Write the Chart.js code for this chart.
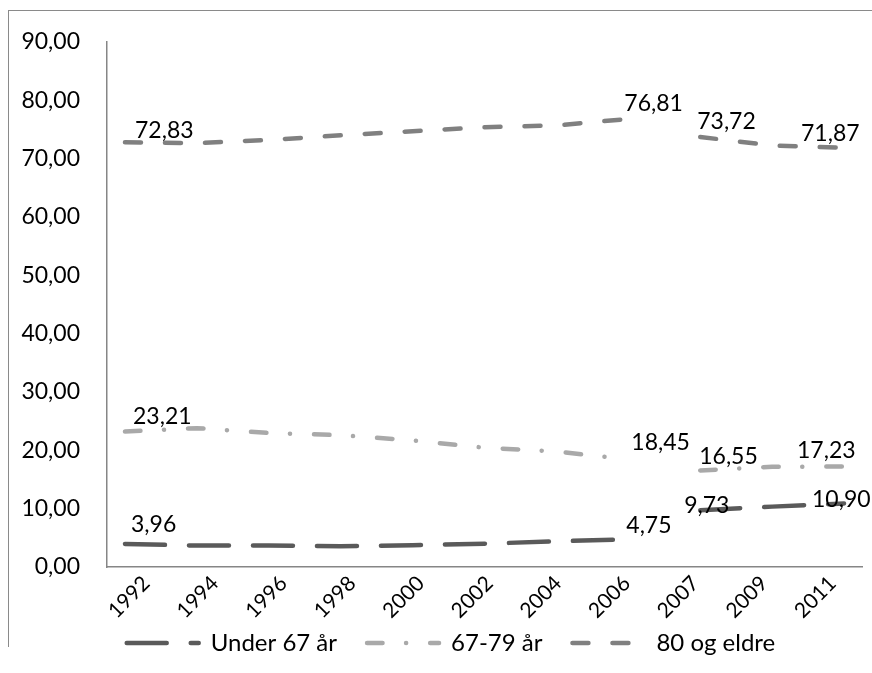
<!DOCTYPE html>
<html>
<head>
<meta charset="utf-8">
<script src="https://cdn.jsdelivr.net/npm/chart.js@4/dist/chart.umd.min.js"></script>
<style>
  html, body { margin: 0; padding: 0; background: #fff; overflow: hidden; }
  #wrap { position: relative; width: 872px; height: 673px; }
  #frame { position: absolute; left: 8px; top: 10px; width: 900px; height: 636px;
           border-left: 1.5px solid #8a8a8a; border-top: 1.5px solid #8a8a8a; }
  canvas { position: absolute; left: 0; top: 0; }
</style>
</head>
<body>
<div id="wrap">
  <div id="frame"></div>
  <canvas id="chart" width="872" height="673"></canvas>
</div>
<script>
// Survey years (categories)
const years = ['1992', '1994', '1996', '1998', '2000', '2002', '2004', '2006', '2007', '2009', '2011'];

// Share (%) by age group
const under67 = [3.96, 3.67, 3.67, 3.55, 3.72, 4.00, 4.40, 4.75, 9.73, 10.35, 10.90];
const age67to79 = [23.21, 23.80, 22.97, 22.60, 21.70, 20.45, 19.80, 18.45, 16.55, 17.18, 17.23];
const age80plus = [72.83, 72.66, 73.21, 74.00, 74.70, 75.40, 75.70, 76.81, 73.72, 72.25, 71.87];

const seriesNames = ['Under 67 år', '67-79 år', '80 og eldre'];

// Value axis
const yMin = 0, yMax = 90, yStep = 10;

// The series is broken between 2006 and 2007 (index 7 -> 8)
const breakAfter = [7];
// Points that carry a value label
const labelledIndex = [0, 7, 8, 10];

const FONT = 'Lato';
const LINE_WIDTH = 4.5;
const fmt = v => v.toFixed(2).replace('.', ',');

// Label placement relative to its point: [dx to text start, dy to text middle]
const labelNudge = [
  [[6, -20], [-2, -14], [-16, -5], [-32, -4]],
  [[8, -16], [3, -17], [-1, -14], [-47, -16]],
  [[10, -12], [-4, -16], [-3, -15.5], [-43, -15]]
];

// Legend sits over the lower part of the rotated year labels
const legendShift = { x: 20, y: -42 };
const legendBoxHeight = 80;

const valueLabels = {
  id: 'valueLabels',
  afterDatasetsDraw(chart) {
    const ctx = chart.ctx;
    ctx.save();
    ctx.font = `23px ${FONT}`;
    ctx.fillStyle = '#000';
    ctx.textAlign = 'left';
    ctx.textBaseline = 'alphabetic';
    chart.data.datasets.forEach((ds, di) => {
      const meta = chart.getDatasetMeta(di);
      labelledIndex.forEach((idx, k) => {
        const pt = meta.data[idx];
        const [dx, dy] = labelNudge[di][k];
        ctx.fillText(fmt(ds.data[idx].y), pt.x + dx, pt.y + dy + 8);
      });
    });
    ctx.restore();
  }
};

const legendPlacement = {
  id: 'legendPlacement',
  afterLayout(chart) {
    const lg = chart.legend;
    if (!lg) return;
    lg.left += legendShift.x; lg.right += legendShift.x;
    lg.top += legendShift.y;
    lg.height = legendBoxHeight;
    lg.bottom = lg.top + legendBoxHeight;
  }
};

const toPoints = arr => arr.map((v, i) => ({ x: i, y: v }));

function series(label, values, color, dash) {
  return {
    label,
    data: toPoints(values),
    borderColor: color,
    backgroundColor: color,
    borderWidth: LINE_WIDTH,
    borderDash: dash,
    borderCapStyle: 'round',
    borderJoinStyle: 'round',
    pointRadius: 0,
    pointHoverRadius: 0,
    tension: 0,
    fill: false,
    xAxisID: 'x',
    yAxisID: 'y',
    segment: {
      borderColor: c => breakAfter.includes(c.p0DataIndex) ? 'rgba(0,0,0,0)' : undefined
    }
  };
}

function build() {
  new Chart(document.getElementById('chart'), {
    type: 'line',
    data: {
      datasets: [
        series(seriesNames[0], under67, '#5a5a5a', [40, 24]),
        series(seriesNames[1], age67to79, '#a9a9a9', [15.5, 23.5, 0.1, 24]),
        series(seriesNames[2], age80plus, '#808080', [16, 24])
      ]
    },
    options: {
      responsive: false,
      animation: false,
      events: [],
      layout: { padding: { top: 42, left: 0, right: 10, bottom: 0 } },
      scales: {
        x: {
          type: 'linear',
          display: false,
          min: -0.25,
          max: years.length - 0.75
        },
        xLabels: {
          type: 'category',
          labels: years,
          position: 'bottom',
          offset: true,
          grid: { display: false, drawTicks: false },
          border: { display: true, color: '#868686', width: 1.5 },
          ticks: {
            autoSkip: false,
            minRotation: 45,
            maxRotation: 45,
            padding: 4,
            labelOffset: 5,
            color: '#000',
            font: { family: FONT, size: 21 }
          },
          afterFit(scale) { scale.height = 76; }
        },
        y: {
          min: yMin,
          max: yMax,
          grid: { display: false, drawTicks: false },
          border: { display: true, color: '#868686', width: 1.5 },
          ticks: {
            stepSize: yStep,
            padding: 27,
            color: '#000',
            font: { family: FONT, size: 23 },
            callback: v => fmt(v)
          },
          afterFit(scale) { scale.width = 107; }
        }
      },
      plugins: {
        tooltip: { enabled: false },
        legend: {
          position: 'bottom',
          maxHeight: 30,
          labels: {
            usePointStyle: true,
            pointStyle: 'line',
            pointStyleWidth: 72,
            padding: 30,
            color: '#000',
            font: { family: FONT, size: 24 },
            generateLabels(chart) {
              const items = Chart.defaults.plugins.legend.labels.generateLabels(chart);
              items.forEach(it => {
                const ds = chart.data.datasets[it.datasetIndex];
                it.lineDash = ds.borderDash;
                it.lineDashOffset = 0;
                it.lineCap = ds.borderCapStyle;
                it.lineWidth = ds.borderWidth;
                it.strokeStyle = ds.borderColor;
              });
              return items;
            }
          }
        }
      }
    },
    plugins: [valueLabels, legendPlacement]
  });
}

if (document.fonts && document.fonts.load) {
  document.fonts.load(`23px ${FONT}`).then(build, build);
} else {
  build();
}
</script>
</body>
</html>
